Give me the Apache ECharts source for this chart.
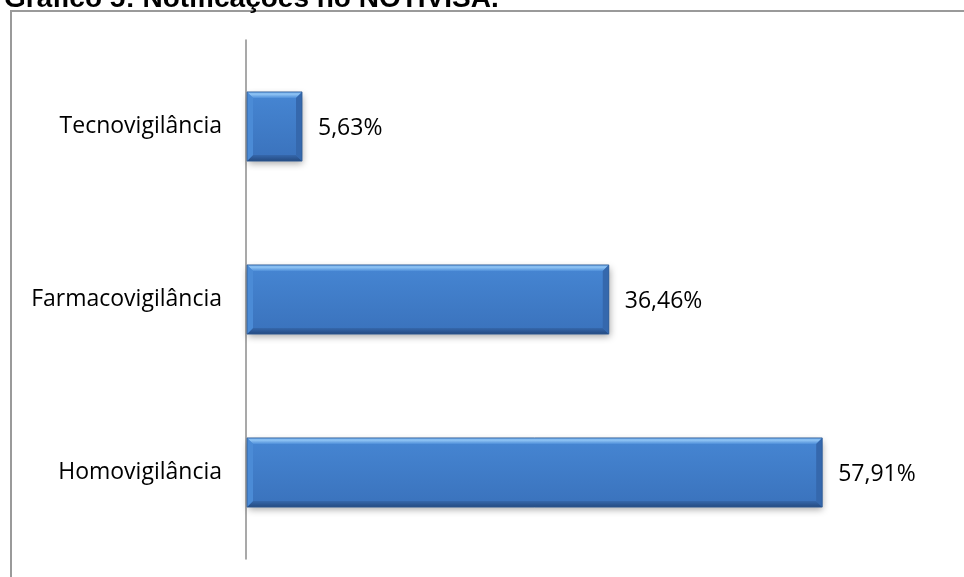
<!DOCTYPE html>
<html>
<head>
<meta charset="utf-8">
<script src="https://cdn.jsdelivr.net/npm/echarts@6/dist/echarts.min.js"></script>
<style>
  html, body { margin: 0; padding: 0; background: #ffffff; }
  #chart { width: 964px; height: 577px; }
</style>
</head>
<body>
<div id="chart"></div>
<script>
// Notificações no NOTIVISA por área de vigilância (%)
const categories = ['Homovigilância', 'Farmacovigilância', 'Tecnovigilância'];
const percentages = [57.91, 36.46, 5.63];
const valueLabels = ['57,91%', '36,46%', '5,63%'];
const chartTitle = 'Gráfico 5: Notificações no NOTIVISA.';

const LABEL_FONT = '23px "Open Sans", "Noto Sans", sans-serif';
const BAR_RATIO = 0.4;   // bar thickness as a share of the category band
const BEVEL = 6;         // bevel width of the bar edges, px

const chart = echarts.init(document.getElementById('chart'));

// Bevelled bar: flat face plus four sloped edges, placed through the axes
function renderBevelBar(params, api) {
  const cat = api.value(1);
  const start = api.coord([0, cat]);
  const end = api.coord([api.value(0), cat]);
  const h = api.size([0, 1])[1] * BAR_RATIO;
  const x0 = start[0] + 1, x1 = end[0];
  const yT = end[1] - h / 2, yB = end[1] + h / 2;
  const b = Math.min(BEVEL, (x1 - x0) / 2);

  const face = new echarts.graphic.LinearGradient(0, 0, 0, 1, [
    { offset: 0, color: '#4686d3' },
    { offset: 1, color: '#3a72bc' }
  ]);
  const topEdge = new echarts.graphic.LinearGradient(0, 0, 0, 1, [
    { offset: 0, color: '#5d9ce2' },
    { offset: 0.35, color: '#92c6f5' },
    { offset: 1, color: '#5090da' }
  ]);
  const bottomEdge = new echarts.graphic.LinearGradient(0, 0, 0, 1, [
    { offset: 0, color: '#3567ab' },
    { offset: 1, color: '#244a80' }
  ]);

  return {
    type: 'group',
    children: [
      {
        type: 'rect',
        shape: { x: x0, y: yT, width: x1 - x0, height: yB - yT },
        style: {
          fill: face,
          shadowColor: 'rgba(0,0,0,0.35)',
          shadowBlur: 7,
          shadowOffsetX: 1,
          shadowOffsetY: 3
        }
      },
      {
        type: 'polygon',
        shape: { points: [[x0, yT], [x1, yT], [x1 - b, yT + b], [x0 + b, yT + b]] },
        style: { fill: topEdge }
      },
      {
        type: 'polygon',
        shape: { points: [[x0 + b, yB - b], [x1 - b, yB - b], [x1, yB], [x0, yB]] },
        style: { fill: bottomEdge }
      },
      {
        type: 'polygon',
        shape: { points: [[x1 - b, yT + b], [x1, yT], [x1, yB], [x1 - b, yB - b]] },
        style: { fill: '#3568ad' }
      },
      {
        type: 'polygon',
        shape: { points: [[x0, yT], [x0 + b, yT + b], [x0 + b, yB - b], [x0, yB]] },
        style: { fill: '#4b8bd6' }
      },
      {
        type: 'rect',
        shape: { x: x0, y: yT, width: x1 - x0, height: yB - yT },
        style: { fill: null, stroke: '#2f5c96', lineWidth: 0.8 }
      },
      {
        type: 'text',
        style: {
          x: x1 + 16,
          y: end[1] + 2,
          text: valueLabels[params.dataIndex],
          font: LABEL_FONT,
          fill: '#000000',
          verticalAlign: 'middle',
          align: 'left'
        }
      }
    ]
  };
}

chart.setOption({
  animation: false,
  backgroundColor: '#ffffff',
  title: {
    text: chartTitle,
    left: -1,
    top: -20,
    textStyle: {
      fontFamily: 'Liberation Sans, Arial, sans-serif',
      fontWeight: 'bold',
      fontSize: 28,
      color: '#000000'
    }
  },
  graphic: [
    {
      type: 'polyline',
      shape: { points: [[11, 577], [11, 11], [964, 11]] },
      style: { stroke: '#9a9a9a', lineWidth: 2, fill: null },
      silent: true
    }
  ],
  grid: { left: 246, top: 40, width: 597, height: 519, containLabel: false },
  xAxis: {
    type: 'value',
    min: 0,
    max: 60,
    show: false
  },
  yAxis: {
    type: 'category',
    data: categories,
    axisLine: { show: true, lineStyle: { color: '#8c8c8c', width: 1.5 } },
    axisTick: { show: false },
    axisLabel: {
      margin: 24,
      padding: [4, 0, 0, 0],
      fontFamily: '"Open Sans", "Noto Sans", sans-serif',
      fontSize: 23,
      color: '#000000'
    },
    splitLine: { show: false }
  },
  series: [
    {
      type: 'custom',
      renderItem: renderBevelBar,
      encode: { x: 0, y: 1 },
      data: percentages.map((v, i) => [v, i])
    }
  ]
});
</script>
</body>
</html>
